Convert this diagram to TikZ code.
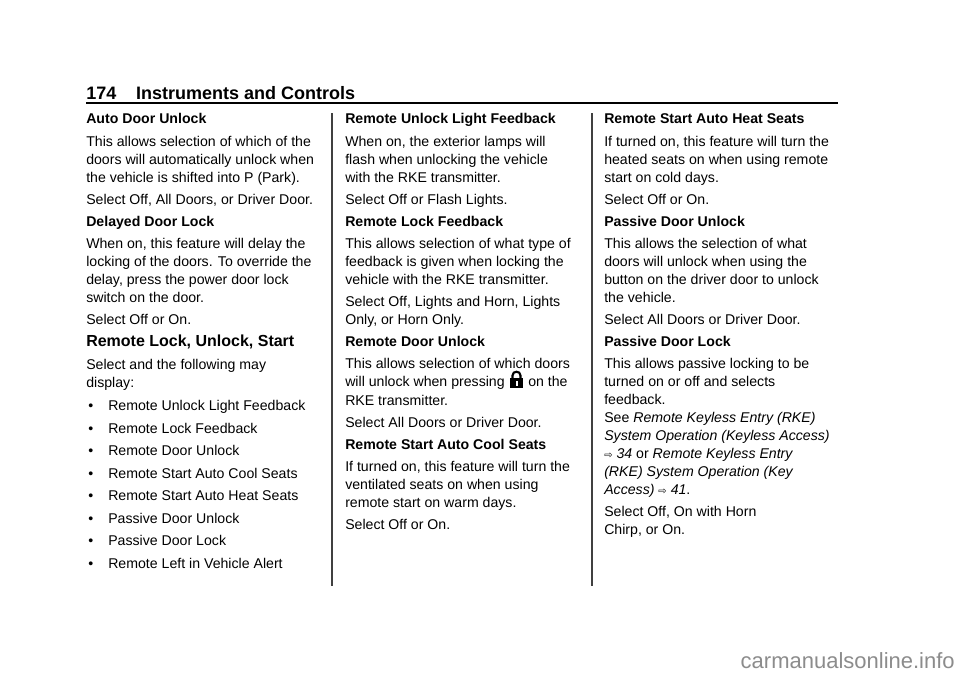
\documentclass[tikz,border=0pt]{standalone}
\usepackage{fontspec}
\setmainfont{Liberation Sans}
\newfontfamily\djv{DejaVu Sans}
\tikzset{txt/.style={anchor=base west,inner sep=0pt,font=\fontsize{10.6}{12}\selectfont},
 bt/.style={txt,font=\fontsize{10.6}{12}\selectfont\bfseries},
 rulel/.style={line width=1pt,black!75}}
\newcommand\ar{{\djv\fontsize{7.5}{9}\selectfont ⇨}}
\begin{document}
\begin{tikzpicture}[x=0.75pt,y=-0.75pt]
\useasboundingbox[fill=white] (0,0) rectangle (960,678);
\node[anchor=base west,inner sep=0pt,font=\fontsize{13.5}{15}\selectfont\bfseries] (hd) at (86,99) {174\hspace{1.1em}Instruments and Controls};
\coordinate (r1) at (86,103); \coordinate (r2) at (838,103);
\draw[line width=1.2pt] (r1) -- (r2);
\coordinate (d1a) at (332,113); \coordinate (d1b) at (332,586);
\coordinate (d2a) at (592,113); \coordinate (d2b) at (592,586);
\draw[rulel] (d1a) -- (d1b); \draw[rulel] (d2a) -- (d2b);
% column 1
\node[bt] (a1) at (86,123) {Auto Door Unlock};
\node[txt] (a2) at (86,146) {This allows selection of which of the};
\node[txt] (a3) at (86,164) {doors will automatically unlock when};
\node[txt] (a4) at (86,182) {the vehicle is shifted into P (Park).};
\node[txt] (a5) at (86,204) {Select Off, All Doors, or Driver Door.};
\node[bt] (a6) at (86,226) {Delayed Door Lock};
\node[txt] (a7) at (86,248) {When on, this feature will delay the};
\node[txt] (a8) at (86,266) {locking of the doors. To override the};
\node[txt] (a9) at (86,284) {delay, press the power door lock};
\node[txt] (a10) at (86,302) {switch on the door.};
\node[txt] (a11) at (86,324) {Select Off or On.};
\node[anchor=base west,inner sep=0pt,font=\fontsize{12}{14}\selectfont\bfseries] (sec) at (86,346) {Remote Lock, Unlock, Start};
\node[txt] (a12) at (86,369) {Select and the following may};
\node[txt] (a13) at (86,387) {display:};
\foreach \yy/\tt [count=\i] in {410/Remote Unlock Light Feedback,433/Remote Lock Feedback,455/Remote Door Unlock,478/Remote Start Auto Cool Seats,500/Remote Start Auto Heat Seats,523/Passive Door Unlock,545/Passive Door Lock,568/Remote Left in Vehicle Alert}{
 \node[txt] (bu\i) at (88,\yy) {\textbullet};
 \node[txt] (bt\i) at (108,\yy) {\tt};
}
% column 2
\node[bt] (b1) at (345,123) {Remote Unlock Light Feedback};
\node[txt] (b2) at (345,146) {When on, the exterior lamps will};
\node[txt] (b3) at (345,164) {flash when unlocking the vehicle};
\node[txt] (b4) at (345,182) {with the RKE transmitter.};
\node[txt] (b5) at (345,204) {Select Off or Flash Lights.};
\node[bt] (b6) at (345,226) {Remote Lock Feedback};
\node[txt] (b7) at (345,248) {This allows selection of what type of};
\node[txt] (b8) at (345,266) {feedback is given when locking the};
\node[txt] (b9) at (345,284) {vehicle with the RKE transmitter.};
\node[txt] (b10) at (345,306) {Select Off, Lights and Horn, Lights};
\node[txt] (b11) at (345,324) {Only, or Horn Only.};
\node[bt] (b12) at (345,346) {Remote Door Unlock};
\node[txt] (b13) at (345,368) {This allows selection of which doors};
\node[txt] (b14) at (345,386) {will unlock when pressing};
\node[txt] (b15) at (528,386) {on the};
\fill (510,378) rectangle (523,388);
\draw[line width=1.6pt] (512.5,378) -- (512.5,375.5) .. controls (512.5,370.5) and (520.5,370.5) .. (520.5,375.5) -- (520.5,378);
\fill[white] (516,381) rectangle (517.5,386);
\node[txt] (b16) at (345,405) {RKE transmitter.};
\node[txt] (b17) at (345,427) {Select All Doors or Driver Door.};
\node[bt] (b18) at (345,449) {Remote Start Auto Cool Seats};
\node[txt] (b19) at (345,471) {If turned on, this feature will turn the};
\node[txt] (b20) at (345,489) {ventilated seats on when using};
\node[txt] (b21) at (345,507) {remote start on warm days.};
\node[txt] (b22) at (345,529) {Select Off or On.};
% column 3
\node[bt] (c1) at (604,123) {Remote Start Auto Heat Seats};
\node[txt] (c2) at (604,146) {If turned on, this feature will turn the};
\node[txt] (c3) at (604,164) {heated seats on when using remote};
\node[txt] (c4) at (604,182) {start on cold days.};
\node[txt] (c5) at (604,204) {Select Off or On.};
\node[bt] (c6) at (604,226) {Passive Door Unlock};
\node[txt] (c7) at (604,248) {This allows the selection of what};
\node[txt] (c8) at (604,266) {doors will unlock when using the};
\node[txt] (c9) at (604,284) {button on the driver door to unlock};
\node[txt] (c10) at (604,302) {the vehicle.};
\node[txt] (c11) at (604,324) {Select All Doors or Driver Door.};
\node[bt] (c12) at (604,346) {Passive Door Lock};
\node[txt] (c13) at (604,368) {This allows passive locking to be};
\node[txt] (c14) at (604,386) {turned on or off and selects};
\node[txt] (c15) at (604,404) {feedback.};
\node[txt] (c16) at (604,422) {See \textit{Remote Keyless Entry (RKE)}};
\node[txt] (c17) at (604,440) {\textit{System Operation (Keyless Access)}};
\node[txt] (c18) at (604,458) {\ar\ \textit{34} or \textit{Remote Keyless Entry}};
\node[txt] (c19) at (604,476) {\textit{(RKE) System Operation (Key}};
\node[txt] (c20) at (604,494) {\textit{Access)} \ar\ \textit{41}.};
\node[txt] (c21) at (604,516) {Select Off, On with Horn};
\node[txt] (c22) at (604,534) {Chirp, or On.};
\node[anchor=base east,inner sep=0pt,text=black!45,font=\fontsize{16.5}{18}\selectfont] (wm) at (955,668) {carmanualsonline.info};
\end{tikzpicture}
\end{document}
